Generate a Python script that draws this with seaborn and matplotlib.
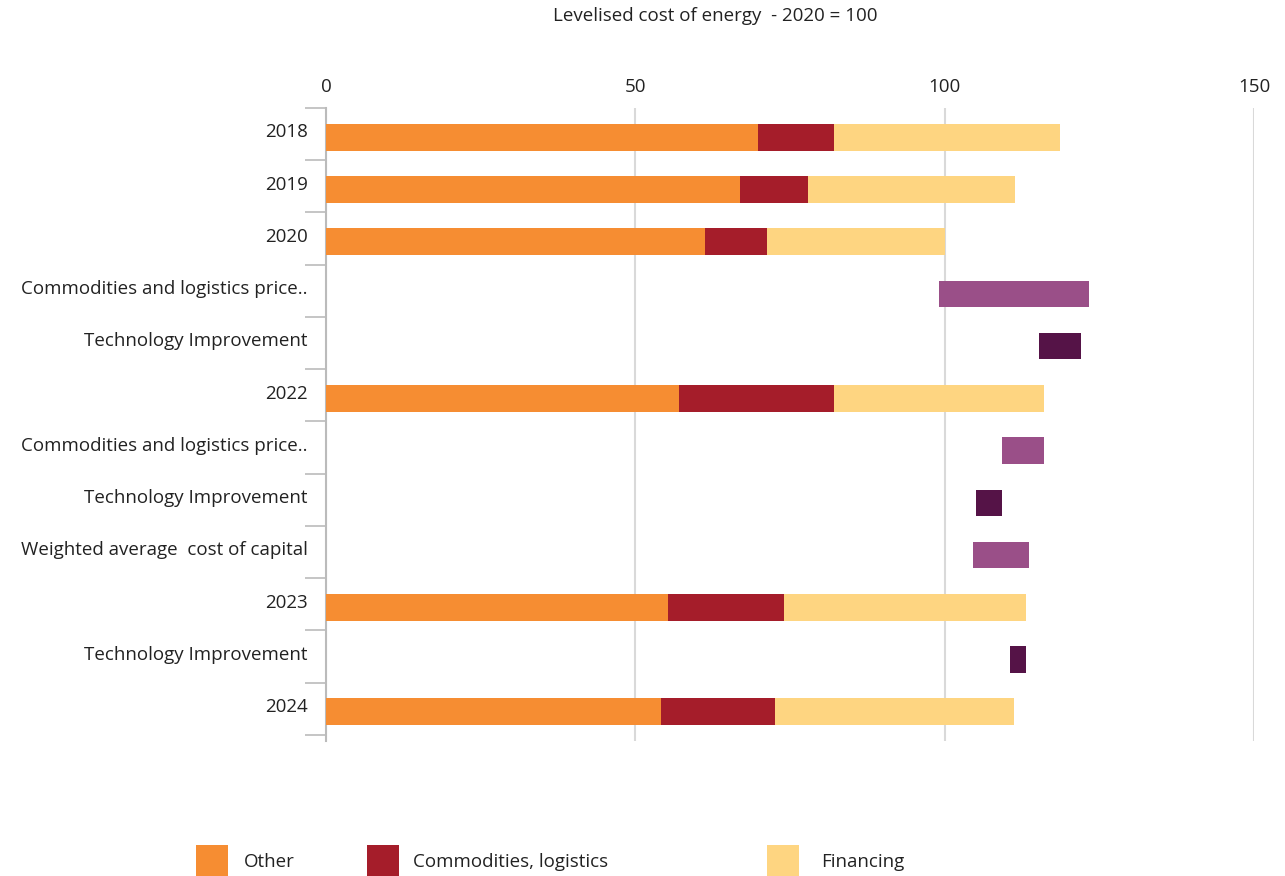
import matplotlib
matplotlib.use('Agg')
import matplotlib.pyplot as plt
from matplotlib.patches import Patch
import seaborn as sns
import pandas as pd
import numpy as np

# rows top to bottom
row_labels = ["2018", "2019", "2020",
              "Commodities and logistics price..", "Technology Improvement",
              "2022",
              "Commodities and logistics price..", "Technology Improvement",
              "Weighted average  cost of capital",
              "2023",
              "Technology Improvement",
              "2024"]
row_ids = ["r%d" % i for i in range(len(row_labels))]

# stacked year bars
year_rows = ["r0", "r1", "r2", "r5", "r9", "r11"]
other = [69.8, 66.9, 61.2, 57.0, 55.2, 54.1]
commodities = [12.3, 11.0, 10.1, 25.1, 18.8, 18.5]
financing = [36.5, 33.4, 28.7, 33.9, 39.2, 38.6]

# floating change bars
step_rows = ["r3", "r4", "r6", "r7", "r8", "r10"]
step_start = [99.0, 115.2, 109.2, 105.0, 104.6, 110.5]
step_end = [123.4, 122.0, 116.0, 109.3, 113.6, 113.2]
step_kind = ["commodities", "technology", "commodities", "technology", "wacc", "technology"]

c_other = "#F68D32"
c_comm = "#A51D2A"
c_fin = "#FED581"
c_step = "#9A4F88"
c_tech = "#551347"
step_colors = {"commodities": c_step, "wacc": c_step, "technology": c_tech}

sns.set_theme(style="white")
plt.rcParams['font.family'] = ['Open Sans', 'DejaVu Sans']
plt.rcParams['text.color'] = '#222222'
fs = 13.5

years_df = pd.DataFrame({"row": year_rows, "other": other,
                         "comm": commodities, "fin": financing})
years_df["c1"] = years_df["other"] + years_df["comm"]
years_df["c2"] = years_df["c1"] + years_df["fin"]

steps_df = pd.DataFrame({"row": step_rows, "start": step_start,
                         "end": step_end, "kind": step_kind})
steps_df["delta"] = steps_df["end"] - steps_df["start"]

fig = plt.figure(figsize=(12.85, 8.76), dpi=100)
ax = fig.add_axes([0.2537, 0.1541, 0.7222, 0.7226])

bw = 0.51
bar_kw = dict(orient="h", order=row_ids, saturation=1, width=bw, ax=ax,
              zorder=3, linewidth=0, edgecolor="none")
sns.barplot(data=years_df, x="c2", y="row", color=c_fin, **bar_kw)
sns.barplot(data=years_df, x="c1", y="row", color=c_comm, **bar_kw)
sns.barplot(data=years_df, x="other", y="row", color=c_other, **bar_kw)

for col in [c_step, c_tech]:
    sub = steps_df[steps_df["kind"].map(step_colors) == col]
    sub = sub.assign(pos=sub["row"].map(row_ids.index)).sort_values("pos")
    sns.barplot(data=sub, x="delta", y="row", color=col,
                left=sub["start"].values, **bar_kw)

n = len(row_ids)
ax.set_xlim(0, 150)
ax.set_ylim(n - 0.44, -0.56)
ax.set_xlabel("")
ax.set_ylabel("")

ax.xaxis.tick_top()
ax.set_xticks([0, 50, 100, 150])
ax.tick_params(axis="x", length=0, pad=9, labelsize=fs, labelcolor="#222222")
ax.set_yticks(np.arange(n) - 0.13, labels=row_labels)
ax.tick_params(axis="y", which="major", length=0, pad=13, labelsize=fs,
               labelcolor="#222222")
ax.set_yticks(np.arange(n + 1) - 0.56, minor=True)
ax.tick_params(axis="y", which="minor", length=15, width=1.2, color="#bbbbbb",
               left=True)

ax.grid(axis="x", color="#d9d9d9", linewidth=1.5, zorder=0)
ax.set_axisbelow(True)
for s in ["top", "right", "bottom"]:
    ax.spines[s].set_visible(False)
ax.spines["left"].set_color("#bbbbbb")
ax.spines["left"].set_linewidth(1.5)

fig.text(0.557, 0.982, "Levelised cost of energy  - 2020 = 100",
         ha="center", va="center", fontsize=fs)

legend_items = [("Other", c_other, 0.1525, 0.85),
                ("Commodities, logistics", c_comm, 0.2856, 0.75),
                ("Financing", c_fin, 0.5969, 1.2)]
for name, col, xpos, gap in legend_items:
    fig.legend(handles=[Patch(facecolor=col, edgecolor="none", label=name)],
               loc="center left", bbox_to_anchor=(xpos, 0.0171), frameon=False,
               fontsize=fs, handlelength=1.7, handleheight=2.2,
               handletextpad=gap, borderpad=0, borderaxespad=0)

fig.savefig("out.png", dpi=100)
